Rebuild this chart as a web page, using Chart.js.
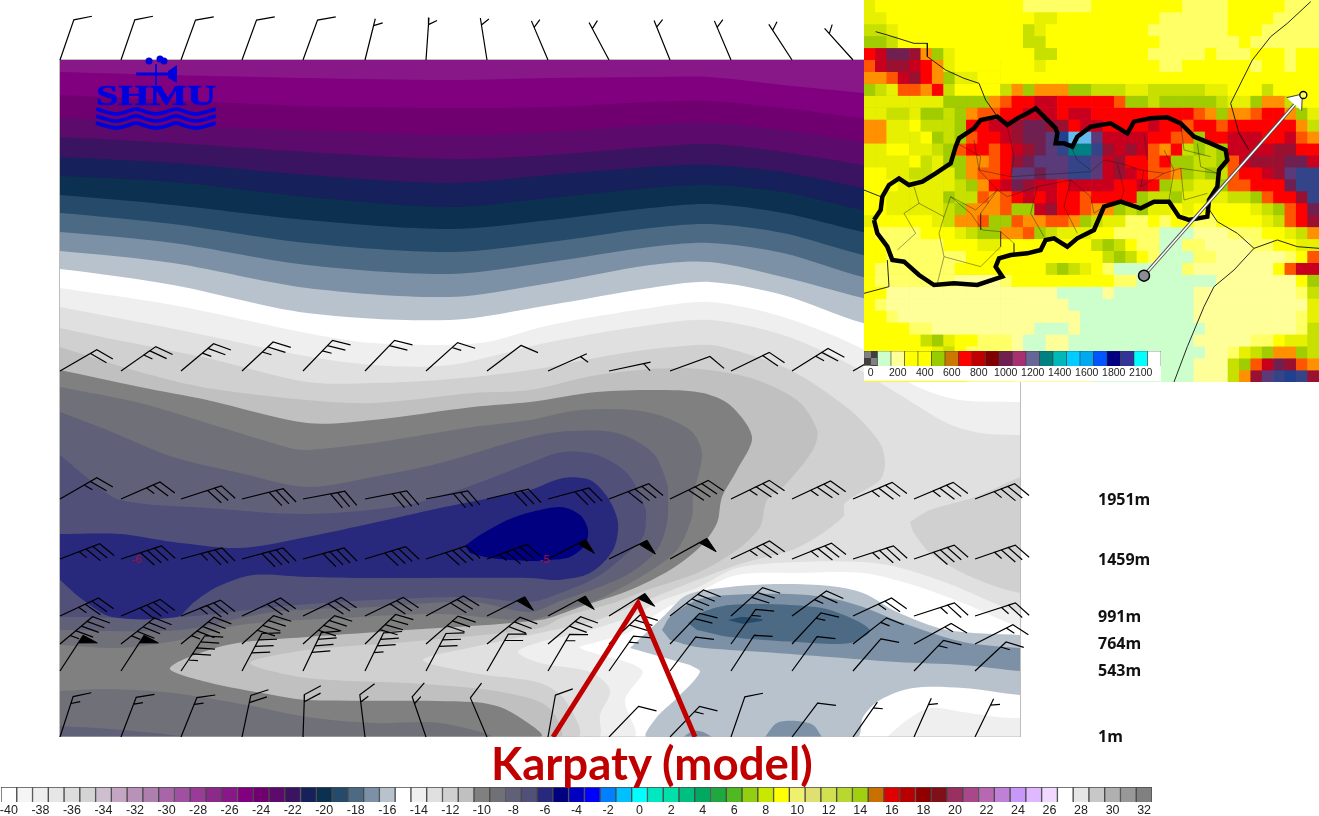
<!DOCTYPE html>
<html>
<head>
<meta charset="utf-8">
<title>Karpaty (model)</title>
<script src="https://cdn.jsdelivr.net/npm/chart.js@4"></script>
<style>
  html, body { margin: 0; padding: 0; background: #fff; overflow: hidden; }
  body { position: relative; width: 1319px; height: 816px; }
  canvas, .label { position: absolute; }
  #section { left: 0; top: 0; z-index: 1; }
  #terrain { left: 864px; top: 0; z-index: 2; }
  #terrainKey { left: 864px; top: 351px; z-index: 3; background: #fff; }
  #tempKey { left: 0; top: 782px; z-index: 1; }
  .label { z-index: 4; white-space: nowrap; }
  #title { left: 491px; top: 738px; font: bold 45.6px Lato, sans-serif; color: #c00000; line-height: 50px; }
  #logo { left: 96px; top: 79px; font: bold 29px "Liberation Serif", serif; color: #0000dd; line-height: 32px;
          -webkit-text-stroke: 0.7px #0000dd; transform: scaleX(1.38); transform-origin: left top; }
  .core { font: 11px "Liberation Sans", sans-serif; color: #b5103c; }
</style>
</head>
<body>
<canvas id="section" width="1319" height="760"></canvas>
<canvas id="terrain" width="455" height="382"></canvas>
<canvas id="terrainKey" width="297" height="30"></canvas>
<canvas id="tempKey" width="1160" height="34"></canvas>
<div class="label" id="title">Karpaty (model)</div>
<div class="label" id="logo">SHMU</div>
<div class="label core" style="left:132px;top:553px">-6</div>
<div class="label core" style="left:540px;top:553px">-5</div>
<script>
// temperature key
const tempLabels = [];
for (let t = -40; t <= 32; t++) tempLabels.push(t);
const tempColors = ['#ffffff','#f5f5f5','#eeeeee','#e6e6e6','#dddddd','#d4d4d4','#cdbfcd','#c4a6c4','#b992b9','#ae7fae',
  '#a866a8','#a050a0','#983c98','#8c2a8c','#881888','#800080','#700070','#5c0a6c','#3a1460','#16205a',
  '#0c3050','#264a6a','#4c6a84','#7c90a6','#b8c2cc','#ffffff','#efefef','#e0e0e0','#d0d0d0','#c0c0c0',
  '#808080','#707078','#606078','#505078','#28287c','#000080','#0000c0','#0000ff','#0080ff','#00c0ff',
  '#00ffff','#00e8c0','#00e0a8','#00c080','#00a860','#20a840','#50b820','#90d010','#c8e800','#ffff00',
  '#f0f070','#e0e070','#d0e050','#b8d830','#a0d010','#c87000','#e00000','#b80000','#900000','#801018',
  '#983060','#a84888','#b868b0','#c080d8','#c898f8','#e0b8ff','#f0d8ff','#ffffff','#e6e6e6','#c8c8c8',
  '#b0b0b0','#989898','#808080'];

// cross section: levels on the right hand side
const levelRows = [500, 560, 617, 644, 671, 737];
const levelNames = ['1951m', '1459m', '991m', '764m', '543m', '1m'];

// temperature bands of the upper part, lower edge of every band
const bandX = [30, 60, 173, 307, 450, 550, 650, 710, 783, 863, 1020, 1060];
const bandM26 = [71, 72, 75, 78, 80, 78, 77, 77, 85, 93, 108, 112];
const bandM25 = [94, 95, 100, 106, 108, 107, 102, 101, 108, 118, 135, 140];
const bandM24 = [116, 117, 125, 130, 135, 132, 125, 123, 130, 142, 165, 170];
const bandM23 = [136, 137, 143, 152, 159, 155, 147, 144, 152, 165, 190, 195];
const bandM22 = [156, 157, 163, 175, 183, 175, 167, 165, 172, 188, 215, 220];
const bandM21 = [175, 176, 182, 197, 207, 198, 188, 185, 192, 210, 240, 245];
const bandM20 = [194, 195, 205, 220, 229, 220, 208, 204, 213, 232, 265, 270];
const bandM19 = [212, 213, 224, 243, 252, 242, 228, 224, 233, 255, 290, 295];
const bandM18 = [231, 232, 243, 265, 274, 262, 247, 243, 253, 277, 310, 315];
const bandM17 = [250, 251, 263, 288, 297, 283, 265, 262, 277, 298, 335, 340];
const bandM16 = [268, 269, 285, 313, 320, 305, 288, 282, 295, 323, 360, 365];

// nested contours of the lower part
const areaM14 = [[60,288],[173,305],[307,333],[373,343],[480,343],[550,325],[650,308],[710,302],[783,317],[863,349],[890,370],[920,388],[960,400],[1020,402],[1040,402],[1040,627],[1020,627],[963,603],[913,585],[863,573],[797,573],[737,575],[697,593],[663,610],[630,632],[597,642],[580,648],[642,670],[625,700],[633,737],[60,737]];
const areaM13 = [[60,307],[180,330],[300,355],[373,365],[450,365],[550,342],[650,325],[710,320],[783,335],[847,363],[897,393],[947,423],[980,433],[1020,435],[1040,435],[1040,613],[1020,613],[947,583],[897,567],[863,562],[797,562],[737,568],[697,588],[663,600],[630,617],[580,633],[540,642],[518,652],[540,663],[590,672],[610,690],[600,715],[598,737],[60,737]];
const areaM12 = [[60,328],[117,340],[207,358],[307,382],[373,383],[440,380],[530,370],[630,352],[697,345],[723,347],[790,370],[850,410],[880,443],[885,463],[880,480],[845,503],[843,517],[797,548],[743,563],[697,580],[647,600],[597,620],[540,633],[473,647],[423,660],[473,673],[540,683],[565,700],[577,737],[60,737]];
const islandM12 = [[910,522],[930,510],[975,497],[1020,477],[1040,470],[1040,597],[1020,593],[997,587],[963,573],[930,553],[913,532]];
const areaM11 = [[60,347],[140,372],[207,388],[307,400],[373,403],[473,393],[530,390],[597,375],[680,368],[747,377],[797,400],[817,430],[813,450],[785,485],[767,500],[760,527],[737,550],[697,573],[647,590],[613,603],[563,617],[540,628],[407,642],[307,650],[250,663],[307,678],[407,683],[473,688],[507,693],[540,702],[555,715],[560,737],[60,737]];
const areaM10 = [[60,370],[140,387],[207,400],[307,423],[373,420],[473,407],[530,402],[597,392],[663,390],[703,393],[730,405],[752,437],[737,470],[722,497],[717,523],[700,547],[670,570],[630,590],[580,607],[540,620],[407,630],[307,637],[227,645],[170,668],[207,682],[273,695],[307,700],[473,702],[507,710],[540,737],[60,737]];
const areaM9 = [[60,387],[140,403],[207,423],[290,448],[307,450],[373,443],[473,427],[530,420],[580,410],[647,412],[690,430],[702,453],[693,497],[692,517],[677,550],[647,573],[597,600],[563,610],[530,620],[440,614],[340,618],[240,625],[180,640],[120,648],[60,645]];
const floorM9 = [[60,691],[107,689],[173,693],[247,705],[307,717],[373,723],[440,723],[490,737],[60,737]];
const areaM8 = [[60,412],[107,430],[173,457],[240,473],[307,487],[373,477],[440,463],[530,437],[570,431],[617,433],[653,453],[667,483],[668,493],[667,523],[657,550],[630,573],[597,588],[563,600],[530,612],[473,602],[373,607],[273,612],[180,630],[60,630]];
const floorM8 = [[60,726],[123,730],[183,737],[60,737]];
const areaM7 = [[60,455],[90,480],[120,500],[207,508],[307,514],[407,505],[473,485],[530,463],[563,452],[597,455],[627,473],[645,507],[646,517],[643,537],[623,557],[597,577],[563,592],[530,602],[473,597],[373,600],[273,607],[180,617],[60,617]];
const areaM6 = [[60,534],[120,534],[173,542],[240,548],[307,537],[373,523],[440,508],[490,498],[530,490],[563,478],[590,480],[608,498],[618,523],[613,550],[590,573],[557,580],[530,578],[373,578],[307,577],[253,575],[217,587],[193,603],[177,617],[112,617],[83,600],[60,580]];
const areaM5 = [[465,546],[480,535],[515,517],[560,507],[580,515],[588,530],[585,545],[570,557],[550,560],[530,561],[490,558],[470,553]];
// cold pool near the ground
const poolM16 = [[630,648],[663,617],[687,595],[730,587],[780,584],[830,586],[863,593],[897,612],[947,630],[1020,635],[1040,635],[1040,695],[1020,695],[963,688],[913,688],[880,700],[863,717],[857,737],[647,737],[657,717],[677,698],[700,672],[690,665]];
const poolM17 = [[662,630],[670,617],[697,600],[730,595],[790,594],[830,598],[863,607],[903,623],[963,642],[1020,648],[1040,648],[1040,671],[1020,671],[963,665],[897,662],[830,657],[763,652],[697,647],[670,640]];
const poolM18 = [[688,623],[703,612],[730,605],[790,605],[830,610],[870,630],[850,643],[797,642],[730,637],[697,630]];
const poolM19 = [[728,620],[743,617],[763,620],[743,624]];
const patchA = [[765,737],[777,723],[797,721],[813,725],[822,737]];
const patchB = [[683,737],[693,731],[703,732],[712,737]];
const warmM14 = [[887,737],[907,720],[930,708],[963,712],[997,717],[1020,718],[1040,718],[1040,737]];

// wind barbs: direction of the staff (degrees) and speed, one pair per level
const windCols = [60, 121, 181, 242, 303, 365, 426, 487, 548, 609, 670, 731, 792, 853, 914, 975];
const dirTop = [71,71,70,70,70,76,86,99,113,118,112,113,123,132];
const speedTop = [10,10,10,10,10,5,5,5,5,5,5,5,5,5];
const dirHigh = [30,35,40,43,46,46,42,37,24,12,20,26,32,30];
const speedHigh = [20,25,25,25,25,20,15,10,5,5,10,20,25,25];
const dir1951 = [30,23.5,18,14,10.5,11,11,13.5,15,21,26,26,25,23,23,21];
const speed1951 = [25,25,30,30,30,30,30,30,30,40,40,35,35,35,35,35];
const dir1459 = [21,18,15,15,15,17,18,20,27,26,29,25,22,18,19,19];
const speed1459 = [35,40,35,40,40,40,40,45,50,50,50,35,35,35,40,35];
const dir991 = [25,23,22,25,26,26,28,27,28,32,38,42,36,25,18,18];
const speed991 = [35,40,35,30,30,30,30,50,50,50,40,30,25,25,25,25];
const dir764 = [40,38,39,42,42,44,41,39,40,43,46,54.5,47,38,29,27];
const speed764 = [45,45,45,40,40,40,30,30,30,30,20,15,15,15,15,15];
const dir543 = [57,57,56,62,64.5,64,62,60,59.5,55,53,57,54,49,46,43];
const speed543 = [50,50,45,40,40,35,30,20,15,15,10,10,10,10,15,15];
const dir1m = [72,69,68,78,88,97,109,113,80,46,46,71,53,55,66,64];
const speed1m = [15,15,15,20,20,15,15,10,10,10,15,10,10,5,5,5];

const ridgeMark = [[553,737],[638,603],[695,737]];
const vaneStem = [[156,64],[156,85]];
const vaneArm = [[136,74],[170,74]];
const vaneTail = [[168,71],[177,65],[177,83],[168,78]];
const vaneBalls = [[149,61],[160,59],[164,61]];
const logoWaveX = [96, 106, 116, 126, 136, 146, 156, 166, 176, 186, 196, 206, 216];
const logoWaveY = [0, 3, 5, 3, 0, 3, 5, 3, 0, 3, 5, 3, 0];
const logoRows = [109, 116, 123];

// terrain map, one letter per model cell
const heightColors = { a:'#ccffcc', b:'#ffff99', c:'#ffff66', d:'#ffff00', e:'#e6f000', f:'#c8e000', g:'#a0cc00',
  h:'#ff9000', i:'#ff5500', j:'#ff0000', k:'#c8001e', l:'#9a1030', m:'#702050', n:'#5a3a78', o:'#334488',
  p:'#008080', q:'#66bbee', r:'#204090' };
const terrainRows = [
  'edddddddddddddccccccddddddddccccdddddccc',
  'eedddddddddddddeedddddddddccccccddddcccc',
  'ffedddddddddddfedddddddddcccccccdddccccc',
  'ggfdddddddddddffddddddddddcccccccdcccccc',
  'jkmmlhgedddddddffddddddddcccccdcccdddcdd',
  'ikllkjhedddddddeddddddddddccddddddcddcdd',
  'hhikljhgeedddddddddddddddddddddddddddddd',
  'gfeiihjfddddfhghhhggfffeefffffeedddfdddd',
  'eeeeeeegggghijjkkjjjjjiggfgggggfeeghhfdd',
  'eeffeggfghiijjkkkjkkjjjjjjjjjihghhijjhge',
  'hheedfffgjjkklmmlljkkjjjjkjjijjijjjjjjhf',
  'hheeedgfgijjklmmnrqqnkkkkjjiigjjkkkjjkih',
  'eeddeefgijjijklmnoppolklkihjfgfgkkkklljj',
  'eeeedfegghhijlmnnnoonkljjijggffgiklllmmk',
  'ddeeffeeghiijnnmnnoonklkjiihgfgfijjklnoo',
  'dddeeeeefghjkmlkkjkkkkjjkjgffeegiijjjmoo',
  'ddeeeeegffihijkjkjjijjjjgffgeeeeffgijjlo',
  'ddeeeeefghhhiggkljjihhgfgeededddddefgijm',
  'edddddefhhiggihhiihgfeeccdcddccddddefijl',
  'dccccdddefgghhigfeeeddccccaaabbbcccddefh',
  'ddcccccdddeeddddddddfgfdccaaccbbbbccddee',
  'ddcccccccddddddddddddfgfdcaaaccbbbbbbcdi',
  'dcccccccddddddddfgfedcaaaaaacbbbbbbbdikk',
  'dcccccccbbbbcdddddddddccaaaaaaabbbbbbbdg',
  'ddbbbbbbbbbbbbbbbaaaabaaaaaaabbbbbbbbbcf',
  'dcbbbbbbbbbbbbbbbbaaaaaaaaaaabbbbbbbbbbe',
  'ddcbbbbbbbbbbbbbbbbaaaaaaaaaabbbbbbbbbce',
  'ddddccbbbbbbbbbaaabaaaaaaaaaaabbbbbbbbcf',
  'dddddfgeddcccbaabbaaaaaaaaaaabbbbbccdeef',
  'ddddddefdccccbaabbaaaaaaaaaaaabbcefghhgf',
  'ddddddeddccccbbabbaaaaaaaaaaabbbfgikmlih',
  'dddddddddccccbbbbbbbaaaaaaaaabbbfhlnorol'
];
const terrainCols = 40;
// outlines, in map units
const slovakia = [[30,660],[50,630],[55,590],[75,555],[105,535],[135,555],[175,545],[215,520],[260,490],[275,440],[285,415],[330,385],[350,360],[400,350],[430,375],[460,355],[490,340],[515,325],[540,350],[575,385],[580,400],[575,430],[600,430],[625,440],[640,410],[680,380],[740,370],[790,400],[810,365],[860,355],[910,352],[950,370],[990,410],[1040,430],[1085,450],[1090,480],[1065,510],[1060,560],[1035,600],[1030,650],[975,660],[945,650],[915,605],[870,605],[830,625],[770,605],[720,620],[705,655],[690,690],[640,715],[610,740],[570,715],[545,720],[530,750],[490,760],[440,765],[405,775],[395,800],[415,830],[340,855],[270,850],[210,855],[165,825],[120,785],[85,780],[70,740],[40,700],[30,660]];
const borders = [
  [[35,95],[70,105],[150,130],[190,130],[190,170],[245,210],[300,235],[345,250],[365,300],[400,350]],
  [[0,570],[50,590]],
  [[1340,5],[1270,70],[1220,110],[1165,180],[1100,310],[1125,400],[1155,450]],
  [[1030,620],[1060,665],[1120,700],[1170,745],[1240,720],[1300,740],[1365,745]],
  [[1170,745],[1110,810],[1050,860],[1020,920],[970,1040],[930,1146]],
  [[70,780],[75,860],[0,880]]
];
const districts = [
  [[150,560],[165,610],[120,640],[155,700],[100,750]],
  [[165,610],[240,650],[225,700],[240,770],[220,850]],
  [[240,650],[260,590],[320,640],[355,690],[410,695],[450,730],[450,760]],
  [[260,590],[335,630],[400,570],[345,510],[330,420]],
  [[345,510],[440,530],[600,520],[680,515],[720,480],[770,490],[830,510],[900,520],[950,505],[1060,520]],
  [[400,570],[430,590],[520,560],[620,540],[680,590],[690,640],[720,620]],
  [[840,510],[830,560],[900,520]],
  [[950,505],[960,600],[1030,580]],
  [[620,440],[640,480],[680,510]],
  [[840,400],[850,480]],
  [[950,370],[960,450],[1040,470]],
  [[410,695],[410,740],[350,800],[240,770]],
  [[280,430],[350,470],[345,510]],
  [[400,570],[350,640],[350,690]],
  [[430,380],[450,470],[440,530]],
  [[520,560],[500,640],[540,710]],
  [[620,540],[600,620],[640,700]],
  [[760,490],[780,570],[770,605]],
  [[900,450],[930,510],[915,600]],
  [[1000,430],[1010,500],[1060,520]]
];
const sectionLine = [[840,827],[1300,305]];
const sectionHead = [[1268,293],[1315,282],[1313,332]];
const sectionStart = [[840,827]];
const sectionEnd = [[1318,285]];

// terrain key
const keyLabels = ['0','','200','','400','','600','','800','','1000','','1200','','1400','','1600','','1800','','2100',''];
const keyColors = ['#808080','#ccffcc','#ffff99','#ffff00','#ffff00','#99cc00','#cc7700','#ff0000','#c00000','#800000',
  '#702050','#a83070','#666699','#008080','#00b8b8','#00ccff','#00a8f0','#0055ff','#000080','#333399','#00ffff','#ffffff'];

Chart.defaults.animation = false;
Chart.defaults.events = [];
Chart.defaults.plugins.legend.display = false;
Chart.defaults.plugins.tooltip.enabled = false;
Chart.defaults.elements.point.radius = 0;

const pts = list => list.map(p => ({ x: p[0], y: p[1] }));

function area(list, color, smooth) {
  return {
    data: pts(list),
    backgroundColor: color,
    borderColor: color,
    borderWidth: 0,
    fill: 'shape',
    tension: smooth === undefined ? 0.3 : smooth,
    spanGaps: false
  };
}

function bandArea(lower, color) {
  // everything above the lower edge, up to the top of the section
  const edge = bandX.map((x, i) => [x, lower[i]]);
  return area(edge.concat([[1060, 20], [30, 20]]), color);
}

function stroke(list, color, width, smooth) {
  return { data: pts(list), borderColor: color, borderWidth: width, tension: smooth || 0, fill: false, spanGaps: false };
}

// staff, feathers and flags of one level
function addBarbs(dirs, speeds, baseY, shafts, flags) {
  const gap = { x: NaN, y: NaN };
  dirs.forEach((dir, i) => {
    const a = dir * Math.PI / 180;
    const ux = Math.cos(a), uy = -Math.sin(a);
    const fa = (dir - 60) * Math.PI / 180;
    const fx = Math.cos(fa), fy = -Math.sin(fa);
    const baseX = windCols[i];
    const tipX = baseX + 42.5 * ux, tipY = baseY + 42.5 * uy;
    shafts.push({ x: baseX, y: baseY }, { x: tipX, y: tipY });
    let left = speeds[i];
    let along = 0;
    while (left >= 50) {
      const pa = (dir - 85) * Math.PI / 180;
      flags.push({ x: tipX - along * ux, y: tipY - along * uy },
        { x: tipX - along * ux + 16 * Math.cos(pa), y: tipY - along * uy - 16 * Math.sin(pa) },
        { x: tipX - (along + 9) * ux, y: tipY - (along + 9) * uy }, gap);
      along += 11;
      left -= 50;
    }
    if (left === 5 && along === 0) along = 7;
    while (left >= 5) {
      const len = left >= 10 ? 18.5 : 9.5;
      const sx = tipX - along * ux, sy = tipY - along * uy;
      shafts.push({ x: sx, y: sy }, { x: sx + len * fx, y: sy + len * fy }, { x: sx, y: sy });
      along += 7.3;
      left -= left >= 10 ? 10 : 5;
    }
    shafts.push(gap);
  });
}

const shafts = [], flags = [];
addBarbs(dirTop, speedTop, 60, shafts, flags);
addBarbs(dirHigh, speedHigh, 371, shafts, flags);
addBarbs(dir1951, speed1951, 499, shafts, flags);
addBarbs(dir1459, speed1459, 559, shafts, flags);
addBarbs(dir991, speed991, 616, shafts, flags);
addBarbs(dir764, speed764, 644, shafts, flags);
addBarbs(dir543, speed543, 671, shafts, flags);
addBarbs(dir1m, speed1m, 737, shafts, flags);

// paint order, first one is the lowest
const colorOf = t => tempColors[t + 40];
const painted = [
  area(areaM14, colorOf(-14)),
  area(areaM13, colorOf(-13)),
  area(areaM12, colorOf(-12)),
  area(islandM12, colorOf(-12)),
  area(areaM11, colorOf(-11)),
  area(areaM10, colorOf(-10)),
  area(areaM9, colorOf(-9)),
  area(floorM9, colorOf(-9)),
  area(areaM8, colorOf(-8)),
  area(floorM8, colorOf(-8)),
  area(areaM7, colorOf(-7)),
  area(areaM6, colorOf(-6)),
  area(areaM5, colorOf(-5)),
  area(poolM16, colorOf(-16)),
  area(poolM17, colorOf(-17)),
  area(poolM18, colorOf(-18)),
  area(poolM19, colorOf(-19)),
  area(patchA, colorOf(-17)),
  area(patchB, colorOf(-17)),
  area(warmM14, colorOf(-14)),
  bandArea(bandM16, colorOf(-16)),
  bandArea(bandM17, colorOf(-17)),
  bandArea(bandM18, colorOf(-18)),
  bandArea(bandM19, colorOf(-19)),
  bandArea(bandM20, colorOf(-20)),
  bandArea(bandM21, colorOf(-21)),
  bandArea(bandM22, colorOf(-22)),
  bandArea(bandM23, colorOf(-23)),
  bandArea(bandM24, colorOf(-24)),
  bandArea(bandM25, colorOf(-25)),
  bandArea(bandM26, colorOf(-26)),
  // white surround hides what the smoothing pushes past the frame
  area([[0,0],[59.5,0],[59.5,760],[0,760]], '#ffffff', 0),
  area([[1020.5,0],[1095,0],[1095,760],[1020.5,760]], '#ffffff', 0),
  area([[0,0],[1095,0],[1095,59.5],[0,59.5]], '#ffffff', 0),
  stroke([[59.5,59.5],[1020.5,59.5],[1020.5,737],[59.5,737],[59.5,59.5]], '#bdbdbd', 1),
  { data: shafts, borderColor: '#000000', borderWidth: 1.2, tension: 0, fill: false, spanGaps: false },
  { data: flags, borderColor: '#000000', backgroundColor: '#000000', borderWidth: 1, tension: 0, fill: 'shape', spanGaps: false },
  stroke(ridgeMark, '#c00000', 5),
  stroke(vaneStem, '#0000dd', 2),
  stroke(vaneArm, '#0000dd', 3),
  area(vaneTail, '#0000dd', 0),
  { data: pts(vaneBalls), showLine: false, pointRadius: 3.5, pointBackgroundColor: '#0000dd', pointBorderWidth: 0 }
].concat(logoRows.map(row =>
  stroke(logoWaveX.map((x, i) => [x, row + logoWaveY[i]]), '#0000dd', 3.8, 0.4)
));

new Chart(document.getElementById('section'), {
  type: 'line',
  data: { datasets: painted.reverse() },
  options: {
    responsive: false,
    layout: { autoPadding: false, padding: { top: 0, left: 0, right: 0, bottom: 23 } },
    scales: {
      x: { type: 'linear', min: 0, max: 1095, display: false },
      y: {
        type: 'linear', min: 0, max: 737, reverse: true, position: 'right',
        grid: { display: false, drawTicks: false },
        border: { display: false },
        afterBuildTicks: axis => { axis.ticks = levelRows.map(v => ({ value: v })); },
        afterFit: axis => { axis.width = 224; axis.paddingTop = 0; axis.paddingBottom = 0; },
        ticks: {
          padding: 3,
          color: '#111111',
          font: { family: 'Open Sans', size: 16, weight: '700' },
          callback: value => levelNames[levelRows.indexOf(value)]
        }
      }
    }
  }
});

// terrain map: floating bars for the cells, lines on a second x scale
const cellH = 1146 / terrainRows.length;
const cellSets = terrainRows.map((row, r) => ({
  type: 'bar',
  order: 10,
  data: row.split('').slice(0, terrainCols).map(() => [r * cellH, (r + 1) * cellH]),
  backgroundColor: row.split('').slice(0, terrainCols).map(c => heightColors[c]),
  borderWidth: 0,
  grouped: false,
  barPercentage: 1,
  categoryPercentage: 1
}));
const mapLine = (list, color, width) => ({
  type: 'line', order: 5, xAxisID: 'xl', data: pts(list), borderColor: color, borderWidth: width,
  pointRadius: 0, tension: 0, fill: false
});
new Chart(document.getElementById('terrain'), {
  data: {
    labels: Array.from({ length: terrainCols }, (_, i) => i),
    datasets: cellSets
      .concat(districts.map(d => mapLine(d, 'rgba(30,30,30,0.55)', 0.8)))
      .concat(borders.map(d => mapLine(d, '#111111', 0.9)))
      .concat([
        Object.assign(mapLine(slovakia, '#000000', 4.5), { order: 4 }),
        Object.assign(mapLine(sectionLine, '#505050', 3.4), { order: 3 }),
        Object.assign(mapLine(sectionLine, '#ffffff', 1.6), { order: 2 }),
        {
          type: 'line', order: 1, xAxisID: 'xl', data: pts(sectionHead), borderColor: '#404040', borderWidth: 1,
          backgroundColor: '#ffffff', fill: 'shape', pointRadius: 0, tension: 0
        },
        {
          type: 'line', order: 1, xAxisID: 'xl', data: pts(sectionStart), showLine: false, pointRadius: 5.5,
          pointBackgroundColor: '#8c8c94', pointBorderColor: '#000000', pointBorderWidth: 1.5
        },
        {
          type: 'line', order: 0, xAxisID: 'xl', data: pts(sectionEnd), showLine: false, pointRadius: 3.5,
          pointBackgroundColor: '#ffff66', pointBorderColor: '#000000', pointBorderWidth: 1.3
        }
      ])
  },
  options: {
    responsive: false,
    layout: { autoPadding: false, padding: 0 },
    scales: {
      x: { type: 'category', display: false },
      xl: { type: 'linear', min: 0, max: 1365, display: false },
      y: { type: 'linear', min: 0, max: 1146, reverse: true, display: false }
    }
  }
});

// terrain key, the first cell is a small checker
const tile = document.createElement('canvas');
tile.width = 14; tile.height = 14;
const tileCtx = tile.getContext('2d');
tileCtx.fillStyle = '#808080'; tileCtx.fillRect(0, 0, 14, 14);
tileCtx.fillStyle = '#404040'; tileCtx.fillRect(7, 0, 7, 7); tileCtx.fillRect(0, 7, 7, 7);
const keyFill = keyColors.slice();
keyFill[0] = tileCtx.createPattern(tile, 'repeat');

new Chart(document.getElementById('terrainKey'), {
  type: 'bar',
  data: {
    labels: keyLabels.map((l, i) => i),
    datasets: [{
      data: keyColors.map(() => 1),
      backgroundColor: keyFill,
      borderColor: '#333333',
      borderWidth: 0.6,
      barPercentage: 1,
      categoryPercentage: 1
    }]
  },
  options: {
    responsive: false,
    layout: { autoPadding: false, padding: 0 },
    scales: {
      x: {
        grid: { display: false, drawTicks: false },
        border: { display: false },
        afterFit: axis => { axis.height = 15; axis.paddingLeft = 0; axis.paddingRight = 0; },
        ticks: {
          autoSkip: false, maxRotation: 0, padding: 1, color: '#222222',
          font: { family: 'Liberation Sans', size: 10.5 },
          callback: value => keyLabels[value]
        }
      },
      y: { min: 0, max: 1, display: false }
    }
  }
});

// temperature key along the bottom
new Chart(document.getElementById('tempKey'), {
  type: 'bar',
  data: {
    labels: tempLabels,
    datasets: [{
      data: tempLabels.map(() => 1),
      backgroundColor: tempColors,
      borderColor: '#4a4a4a',
      borderWidth: 1,
      barPercentage: 1,
      categoryPercentage: 1
    }]
  },
  options: {
    responsive: false,
    layout: { autoPadding: false, padding: { left: 1, right: 8, top: 5, bottom: 0 } },
    scales: {
      x: {
        grid: { display: false, drawTicks: false },
        border: { display: false },
        afterFit: axis => { axis.height = 14; axis.paddingLeft = 0; axis.paddingRight = 0; },
        ticks: {
          autoSkip: false, maxRotation: 0, padding: 1, color: '#222222',
          font: { family: '"Liberation Sans Narrow", "Liberation Sans"', size: 12.5 },
          callback: (value, i) => (tempLabels[i] % 2 === 0 ? String(tempLabels[i]) : '')
        }
      },
      y: { min: 0, max: 1, display: false }
    }
  }
});
</script>
</body>
</html>
